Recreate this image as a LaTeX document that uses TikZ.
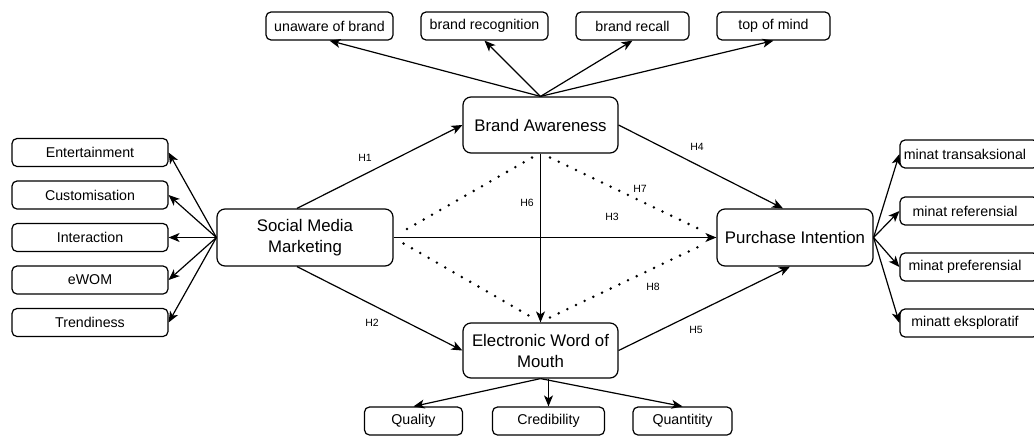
\documentclass[tikz,border=0pt]{standalone}
\usepackage{fontspec}
\setmainfont{Liberation Sans}
\usetikzlibrary{arrows.meta}
\begin{document}
\begin{tikzpicture}[x=1pt,y=-1pt,
  box/.style={draw, line width=1.2pt, rounded corners=5pt, inner sep=0pt, font=\fontsize{14.2}{16}\selectfont},
  bigbox/.style={draw, line width=1.2pt, rounded corners=8pt, inner sep=0pt, align=center, font=\fontsize{16.8}{21}\selectfont},
  arr/.style={line width=1.2pt, -{Stealth[length=11pt,width=9pt,inset=3pt]}},
  dots/.style={line width=2.8pt, line cap=round, dash pattern=on 0pt off 9.6pt},
  hlab/.style={font=\fontsize{10.5}{12}\selectfont, inner sep=0pt}]
\useasboundingbox (0,0) rectangle (1034,437);
% top boxes
\node[box, minimum width=127pt, minimum height=28pt] (una) at (329.5,26) {unaware of brand};
\node[box, minimum width=127pt, minimum height=28pt] (brec) at (484.5,26) {brand recognition};
\node[box, minimum width=113pt, minimum height=28pt] (brcl) at (632.5,26) {brand recall};
\node[box, minimum width=113pt, minimum height=28pt] (tom) at (773.5,26) {top of mind};
% main nodes
\node[bigbox, minimum width=155pt, minimum height=56pt] (BA) at (540.5,125) {Brand Awareness};
\node[bigbox, minimum width=176pt, minimum height=57pt] (SMM) at (305,237.5) {Social Media\\Marketing};
\node[bigbox, minimum width=156pt, minimum height=57pt] (PI) at (795,237.5) {Purchase Intention};
\node[bigbox, minimum width=155pt, minimum height=55pt] (EW) at (540.5,350.5) {Electronic Word of\\Mouth};
% left boxes
\node[box, minimum width=156pt, minimum height=28pt] (ent) at (90,152.5) {Entertainment};
\node[box, minimum width=156pt, minimum height=28pt] (cus) at (90,195) {Customisation};
\node[box, minimum width=156pt, minimum height=28pt] (int) at (90,237.5) {Interaction};
\node[box, minimum width=156pt, minimum height=28pt] (ewom) at (90,280) {eWOM};
\node[box, minimum width=156pt, minimum height=28pt] (tre) at (90,322.5) {Trendiness};
% right boxes
\node[box, minimum width=138pt, minimum height=28pt] (mt) at (969,154) {\hspace*{-4pt}minat transaksional\hspace*{4pt}};
\node[box, minimum width=138pt, minimum height=28pt] (mr) at (969,211) {\hspace*{-4pt}minat referensial\hspace*{4pt}};
\node[box, minimum width=138pt, minimum height=28pt] (mp) at (969,267) {\hspace*{-4pt}minat preferensial\hspace*{4pt}};
\node[box, minimum width=138pt, minimum height=28pt] (me) at (969,323) {\hspace*{-4pt}minatt eksploratif\hspace*{4pt}};
% bottom boxes
\node[box, minimum width=98pt, minimum height=28pt] (qual) at (413.5,421) {Quality};
\node[box, minimum width=112pt, minimum height=28pt] (cred) at (548.5,421) {Credibility};
\node[box, minimum width=99pt, minimum height=28pt] (quan) at (682.5,421) {Quantitity};
% BA indicators
\foreach \t in {una,brec,brcl,tom} \draw[arr] (BA.north) -- (\t.south);
% SMM indicators
\foreach \t in {ent,cus,int,ewom,tre} \draw[arr] (SMM.west) -- (\t.east);
% PI indicators
\foreach \t in {mt,mr,mp,me} \draw[arr] (PI.east) -- (\t.west);
% EW indicators
\draw[arr] (EW.south) -- (qual.north);
\draw[arr] (EW.south -| cred.north) -- (cred.north);
\draw[arr] (EW.south) -- (quan.north);
% structural paths
\draw[arr] ([xshift=-8pt]SMM.north) -- (BA.west);
\draw[arr] ([xshift=-8pt]SMM.south) -- (EW.west);
\draw[arr] (SMM.east) -- (PI.west);
\draw[arr] (BA.east) -- ([xshift=-12pt]PI.north);
\draw[arr] (EW.east) -- ([xshift=-5pt]PI.south);
\draw[arr] (BA.south) -- (EW.north);
% dotted mediation paths
\draw[dots] ([shift={(-8.5,4)}]BA.south) -- ([shift={(10,-6.5)}]SMM.east);
\draw[dots] ([shift={(10,6)}]SMM.east) -- ([shift={(-8.5,-5)}]EW.north);
\draw[dots] ([shift={(9.5,4)}]BA.south) -- ([shift={(-11,-5.5)}]PI.west);
\draw[dots] ([shift={(9.5,-5)}]EW.north) -- ([shift={(-11,6)}]PI.west);
% labels
\node[hlab] (h1) at (365,158) {H1};
\node[hlab] (h2) at (372,323) {H2};
\node[hlab] (h3) at (612,217) {H3};
\node[hlab] (h4) at (697,147) {H4};
\node[hlab] (h5) at (696,330) {H5};
\node[hlab] (h6) at (527,203) {H6};
\node[hlab] (h7) at (640,189) {H7};
\node[hlab] (h8) at (653,287) {H8};
\end{tikzpicture}
\end{document}
